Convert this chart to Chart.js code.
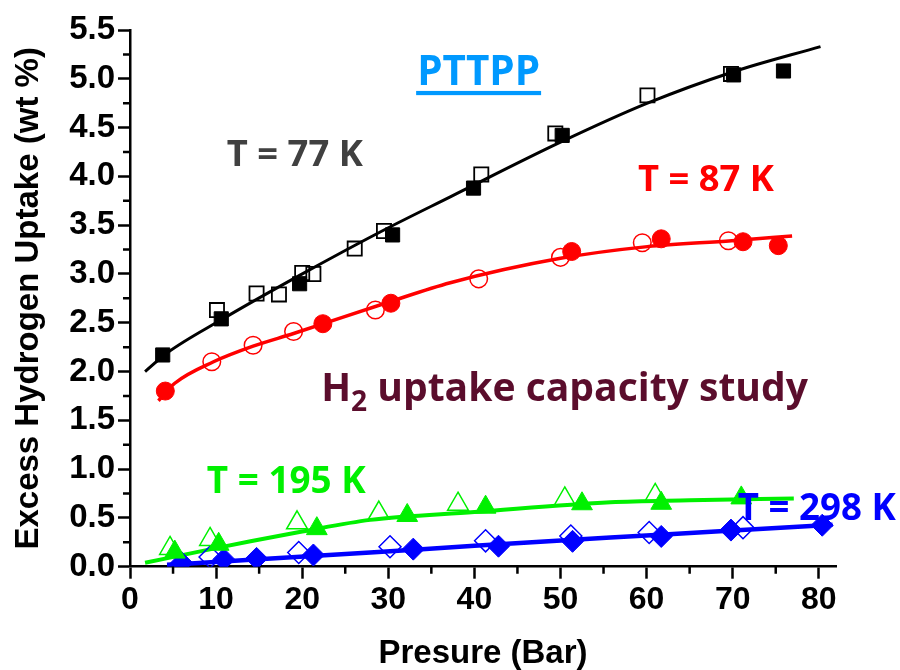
<!DOCTYPE html>
<html>
<head>
<meta charset="utf-8">
<script src="https://cdn.jsdelivr.net/npm/chart.js@4"></script>
<style>
html,body{margin:0;padding:0;background:#ffffff;}
#wrap{width:900px;height:670px;position:relative;}
</style>
</head>
<body>
<div id="wrap"><canvas id="c"></canvas></div>
<script>
// ---- tick labels ----
const xTicks = [0, 10, 20, 30, 40, 50, 60, 70, 80];
const yTicks = [0, 0.5, 1.0, 1.5, 2.0, 2.5, 3.0, 3.5, 4.0, 4.5, 5.0, 5.5];
const xMinorTicks = [5, 15, 25, 35, 45, 55, 65, 75];
const yMinorTicks = [0.25, 0.75, 1.25, 1.75, 2.25, 2.75, 3.25, 3.75, 4.25, 4.75, 5.25];

// ---- T = 77 K ----
const t77Filled = [[3.8,2.17],[10.6,2.54],[19.7,2.90],[30.5,3.40],[39.9,3.88],[50.2,4.42],[70.1,5.04],[75.9,5.08]];
const t77Open   = [[10.1,2.63],[14.7,2.80],[17.3,2.79],[20.0,3.01],[21.3,3.00],[26.1,3.26],[29.5,3.44],[40.8,4.02],[49.4,4.44],[60.1,4.83],[69.8,5.05]];
const t77Fit    = [[1.75,2.00],[4.3,2.19],[10.6,2.53],[19.8,2.99],[29.5,3.45],[37.2,3.79],[50.0,4.35],[60.1,4.75],[70.0,5.07],[80.2,5.33]];

// ---- T = 87 K ----
const t87Filled = [[4.1,1.80],[22.4,2.49],[30.3,2.70],[51.3,3.23],[61.7,3.36],[71.2,3.33],[75.3,3.29]];
const t87Open   = [[9.5,2.10],[14.3,2.27],[19.0,2.41],[28.5,2.63],[40.5,2.95],[50.0,3.17],[59.5,3.32],[69.5,3.34]];
const t87Fit    = [[3.3,1.70],[5.2,1.88],[9.7,2.10],[14.3,2.26],[19.0,2.39],[30.0,2.71],[37.2,2.91],[50.0,3.16],[60.1,3.28],[69.9,3.34],[76.9,3.39]];

// ---- T = 195 K ----
const t195Filled = [[5.2,0.15],[10.3,0.23],[21.7,0.39],[32.2,0.525],[41.3,0.61],[52.5,0.645],[61.7,0.65],[71.0,0.705]];
const t195Open   = [[4.65,0.187],[9.3,0.28],[19.4,0.45],[28.9,0.55],[38.1,0.64],[50.5,0.695],[61.0,0.73]];
const t195Fit    = [[1.75,0.04],[10.0,0.19],[14.0,0.26],[20.0,0.36],[27.9,0.48],[40.0,0.56],[55.8,0.66],[65.0,0.68],[77.1,0.70]];

// ---- T = 298 K ----
const t298Filled = [[6.0,0.04],[10.9,0.075],[14.7,0.085],[21.3,0.12],[32.9,0.18],[42.8,0.21],[51.4,0.26],[61.7,0.31],[69.8,0.375],[80.4,0.425]];
const t298Open   = [[9.3,0.10],[19.6,0.145],[30.2,0.205],[41.3,0.265],[51.2,0.315],[60.3,0.35],[71.2,0.40]];
const t298Fit    = [[4.3,0.02],[14.0,0.07],[27.9,0.145],[40.0,0.215],[55.8,0.30],[68.0,0.36],[81.6,0.43]];

const pts = arr => arr.map(p => ({x: p[0], y: p[1]}));

function fitSet(data, color, width) {
  return {data: pts(data), showLine: true, borderColor: color, borderWidth: width,
          pointRadius: 0, cubicInterpolationMode: 'monotone', fill: false, order: 2};
}
function markSet(data, style, radius, color, filled, bw) {
  return {data: pts(data), showLine: false, pointStyle: style, pointRadius: radius,
          pointBackgroundColor: filled ? color : 'rgba(0,0,0,0)', pointBorderColor: color,
          pointBorderWidth: bw, order: 1};
}

const annotations = [
  {parts:[{t:'PTTPP',k:1,dy:0}], x:33.35, y:4.935, w:123, color:'#0099ff', underline:{off:5.8, th:4.2}},
  {parts:[{t:'T = 77 K',k:1,dy:0}], x:11.25, y:4.11, w:136, color:'#404040'},
  {parts:[{t:'T = 87 K',k:1,dy:0}], x:59.0, y:3.85, w:136, color:'#ff0000'},
  {parts:[{t:'H',k:1,dy:0},{t:'2',k:0.72,dy:0.27},{t:' uptake capacity study',k:1,dy:0}], x:22.2, y:1.70, w:487, color:'#5b0d2c'},
  {parts:[{t:'T = 195 K',k:1,dy:0}], x:8.92, y:0.758, w:159, color:'#00f000'},
  {parts:[{t:'T = 298 K',k:1,dy:0}], x:70.6, y:0.478, w:158, color:'#0000ff'}
];

const labelFont = "'Open Sans', 'Noto Sans', sans-serif";

const extras = {
  id: 'extras',
  afterDraw(chart) {
    const ctx = chart.ctx, xs = chart.scales.x, ys = chart.scales.y;
    ctx.save();
    // minor ticks
    ctx.strokeStyle = '#000';
    ctx.lineWidth = 2.5;
    ctx.beginPath();
    xMinorTicks.forEach(v => {
      const px = xs.getPixelForValue(v);
      ctx.moveTo(px, ys.bottom); ctx.lineTo(px, ys.bottom + 7);
    });
    yMinorTicks.forEach(v => {
      const py = ys.getPixelForValue(v);
      ctx.moveTo(xs.left, py); ctx.lineTo(xs.left - 7, py);
    });
    ctx.stroke();
    // annotations
    annotations.forEach(a => {
      const px = xs.getPixelForValue(a.x), py = ys.getPixelForValue(a.y);
      let total = 0;
      a.parts.forEach(s => { ctx.font = 'bold ' + (100 * s.k) + 'px ' + labelFont; total += ctx.measureText(s.t).width; });
      const size = 100 * a.w / total;
      ctx.fillStyle = a.color;
      ctx.textAlign = 'left';
      ctx.textBaseline = 'alphabetic';
      let cx = px;
      a.parts.forEach(s => {
        ctx.font = 'bold ' + (size * s.k) + 'px ' + labelFont;
        ctx.fillText(s.t, cx, py + s.dy * size);
        cx += ctx.measureText(s.t).width;
      });
      if (a.underline) ctx.fillRect(px - 1, py + a.underline.off, cx - px + 2, a.underline.th);
    });
    ctx.restore();
  }
};

const axisFont = "'Liberation Sans', Arial, Helvetica, sans-serif";

new Chart(document.getElementById('c'), {
  type: 'scatter',
  data: {
    datasets: [
      fitSet(t77Fit, '#000000', 3),
      markSet(t77Filled, 'rect', 10, '#000000', true, 1),
      markSet(t77Open, 'rect', 10, '#000000', false, 1.8),
      fitSet(t87Fit, '#ff0000', 3.5),
      markSet(t87Filled, 'circle', 9, '#ff0000', true, 1),
      markSet(t87Open, 'circle', 8.8, '#ff0000', false, 1.5),
      fitSet(t195Fit, '#00f000', 4),
      markSet(t195Filled, 'triangle', 12, '#00f000', true, 1),
      markSet(t195Open, 'triangle', 12, '#00f000', false, 1.5),
      fitSet(t298Fit, '#0000ff', 4.5),
      markSet(t298Filled, 'rectRot', 11, '#0000ff', true, 1),
      markSet(t298Open, 'rectRot', 11, '#0000ff', false, 1.5)
    ]
  },
  options: {
    responsive: true,
    maintainAspectRatio: false,
    animation: false,
    events: [],
    layout: {padding: {top: 30, right: 64, left: 0, bottom: 0}},
    plugins: {legend: {display: false}, tooltip: {enabled: false}},
    scales: {
      x: {
        type: 'linear', min: 0, max: 82,
        afterBuildTicks: s => { s.ticks = xTicks.map(v => ({value: v})); },
        afterFit: s => { s.height = 103.3; },
        ticks: {color: '#000', padding: 2, font: {family: axisFont, weight: 'bold', size: 32},
                callback: v => String(v), maxRotation: 0, autoSkip: false},
        grid: {drawOnChartArea: false, drawTicks: true, tickLength: 12, tickWidth: 2.5, tickColor: '#000', color: '#000'},
        border: {display: true, color: '#000', width: 2.5},
        title: {display: true, text: 'Presure (Bar)', color: '#000',
                font: {family: axisFont, weight: 'bold', size: 33, lineHeight: 1},
                padding: {top: 0, bottom: 0}}
      },
      y: {
        type: 'linear', min: 0, max: 5.5,
        afterBuildTicks: s => { s.ticks = yTicks.map(v => ({value: v})); },
        afterFit: s => { s.width = 130; },
        ticks: {color: '#000', padding: 3, font: {family: axisFont, weight: 'bold', size: 33},
                callback: v => Number(v).toFixed(1), autoSkip: false},
        grid: {drawOnChartArea: false, drawTicks: true, tickLength: 12, tickWidth: 2.5, tickColor: '#000', color: '#000'},
        border: {display: true, color: '#000', width: 2.5},
        title: {display: true, text: 'Excess Hydrogen Uptake (wt %)', color: '#000',
                font: {family: axisFont, weight: 'bold', size: 33, lineHeight: 1},
                padding: {top: 12, bottom: 0}}
      }
    }
  },
  plugins: [extras]
});
</script>
</body>
</html>
